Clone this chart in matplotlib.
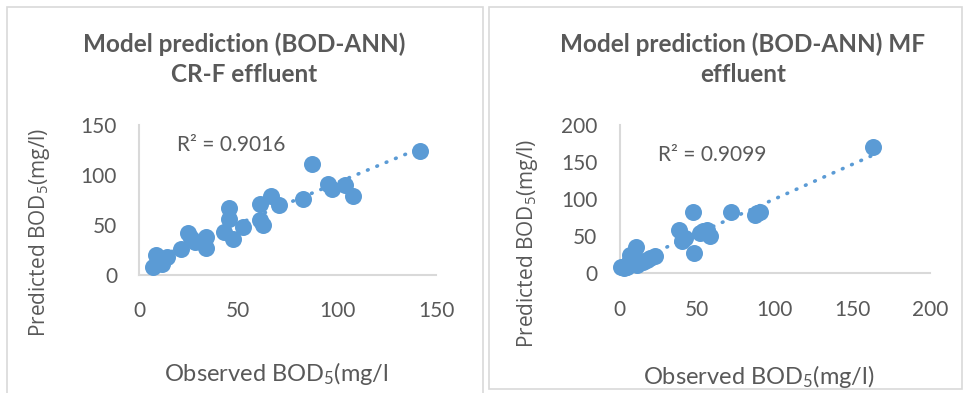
import numpy as np
import matplotlib.pyplot as plt
from matplotlib.patches import Rectangle

plt.rcParams['font.family'] = ['Lato', 'DejaVu Sans']
plt.rcParams['mathtext.default'] = 'regular'

# CR-F effluent: observed vs predicted BOD5 (mg/l)
crf_obs = [141.8, 87.2, 95.2, 97.3, 104, 108, 82.6, 66.6, 70.6, 61, 62.5, 61,
           52.3, 45.4, 45.4, 47.2, 42.8, 33.7, 33.7, 24.6, 28.2, 26, 21, 14,
           8.4, 6.8, 11.3, 9.5]
crf_pred = [124, 111, 91, 86, 90, 79, 76, 79, 70, 71, 50, 55,
            48, 67, 56, 36, 43, 38, 27, 42, 33, 37, 26, 18,
            20, 8, 11, 13]

# MF effluent
mf_obs = [163, 47.1, 71.8, 87.2, 90.5, 88.6, 38.5, 56.1, 58.3, 51.8, 53.8,
          42.2, 40, 48, 10.6, 6.8, 22.9, 17.5, 13.2, 8.7, 0.8, 4.6, 19.6,
          15, 11, 3, 6]
mf_pred = [170, 83, 82, 79, 83, 81, 59, 59, 50, 54, 57,
           47, 43, 28, 36, 25, 23, 18, 16, 13, 9, 8, 21,
           15, 11, 7, 15]

r2_labels = ['R² = 0.9016', 'R² = 0.9099']
titles = ['Model prediction (BOD-ANN)\nCR-F effluent',
          'Model prediction (BOD-ANN) MF\neffluent']
xlabels = ['Observed BOD$_5$(mg/l', 'Observed BOD$_5$(mg/l)']
ylabel = 'Predicted BOD$_5$(mg/l)'

blue = '#5B9BD5'
grey = '#595959'
axis_grey = '#D9D9D9'

W, H = 967, 393
fig = plt.figure(figsize=(W / 100, H / 100), dpi=100)

# panel frames
fig.patches.append(Rectangle((7 / W, -0.01), 476 / W, 1 - 7 / H + 0.01,
                             transform=fig.transFigure, fill=False,
                             edgecolor=axis_grey, lw=1.2))
fig.patches.append(Rectangle((489 / W, 4 / H), 473 / W, 1 - 11 / H,
                             transform=fig.transFigure, fill=False,
                             edgecolor=axis_grey, lw=1.2))


def px_axes(x0, x1, ytop, ybot):
    return fig.add_axes([x0 / W, 1 - ybot / H, (x1 - x0) / W, (ybot - ytop) / H])


ax1 = px_axes(139.3, 436, 125, 275)
ax2 = px_axes(619.5, 930, 125, 273.3)

setups = [
    (ax1, crf_obs, crf_pred, (0, 150), np.arange(0, 151, 50), np.arange(0, 151, 50),
     (0.127, 0.867), (-0.294, 0.287), (0.461, -0.567), 244),
    (ax2, mf_obs, mf_pred, (0, 200), np.arange(0, 201, 50), np.arange(0, 201, 50),
     (0.124, 0.798), (-0.256, 0.204), (0.449, -0.605), 743),
]

for i, (ax, xs, ys, lim, xt, yt, r2pos, ylpos, xlpos, tx) in enumerate(setups):
    xs = np.array(xs)
    ys = np.array(ys)
    ax.scatter(xs, ys, s=150, color=blue, zorder=3, clip_on=False, linewidths=0)

    # linear trendline over the data range
    k, b = np.polyfit(xs, ys, 1)
    fx = np.array([xs.min(), xs.max()])
    ax.plot(fx, k * fx + b, color=blue, lw=2.6, linestyle=(0, (0.2, 2.6)),
            dash_capstyle='round', zorder=2)

    ax.set_xlim(lim)
    ax.set_ylim(lim)
    ax.set_xticks(xt)
    ax.set_yticks(yt)
    ax.tick_params(length=0, labelsize=15, labelcolor=grey)
    ax.tick_params(axis='x', pad=19)
    ax.tick_params(axis='y', pad=16)
    for s in ['top', 'right']:
        ax.spines[s].set_visible(False)
    for s in ['left', 'bottom']:
        ax.spines[s].set_color(axis_grey)
        ax.spines[s].set_linewidth(1.5)

    ax.text(r2pos[0], r2pos[1], r2_labels[i], transform=ax.transAxes,
            fontsize=15, color=grey, va='center', ha='left')

    ax.set_ylabel(ylabel, fontsize=15, color=grey, family=['Open Sans', 'DejaVu Sans'])
    ax.yaxis.set_label_coords(*ylpos)
    ax.set_xlabel(xlabels[i], fontsize=17, color=grey)
    ax.xaxis.set_label_coords(*xlpos)

    fig.text(tx / W, 1 - 59 / H, titles[i], ha='center', va='center',
             fontsize=17.5, fontweight='bold', color=grey, linespacing=1.35)

fig.savefig('out.png', dpi=100)
